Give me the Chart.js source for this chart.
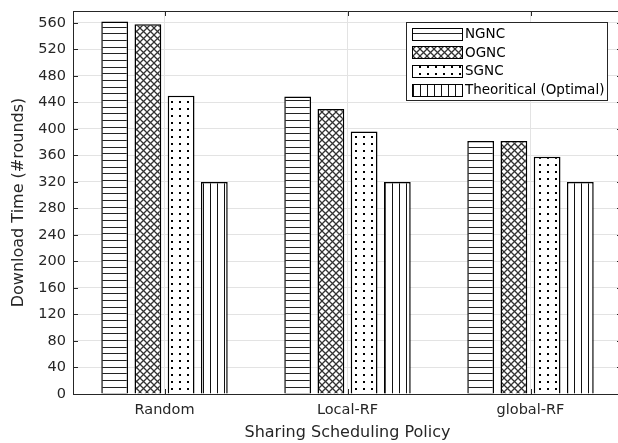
<!DOCTYPE html>
<html>
<head>
<meta charset="utf-8">
<script src="https://cdn.jsdelivr.net/npm/chart.js@4/dist/chart.umd.min.js"></script>
<style>
  html, body { margin: 0; padding: 0; background: #fff; overflow: hidden; }
  #wrap { position: relative; width: 640px; height: 443px; }
</style>
</head>
<body>
<div id="wrap"><canvas id="chart" width="640" height="443"></canvas></div>
<script>
// Download time per sharing scheduling policy
const categories = ['Random', 'Local-RF', 'global-RF'];
const seriesNames = ['NGNC', 'OGNC', 'SGNC', 'Theoritical (Optimal)'];
const ngnc    = [562, 449, 382];
const ognc    = [558, 430, 382];
const sgnc    = [450, 396, 358];
const optimal = [320, 320, 320];
const yTicks  = [0, 40, 80, 120, 160, 200, 240, 280, 320, 360, 400, 440, 480, 520, 560];

const AXIS = '#262626';
const FONT = "'DejaVu Sans', 'Liberation Sans', Arial, sans-serif";

// Monochrome hatch fills
function hatch(kind) {
  const c = document.createElement('canvas');
  const g = c.getContext('2d');
  if (kind === 'horizontal') {
    c.width = 4; c.height = 20;
    g.fillStyle = '#fff'; g.fillRect(0, 0, 4, 20);
    g.fillStyle = '#222';
    [0, 7, 13].forEach(y => g.fillRect(0, y, 4, 1));
  } else if (kind === 'cross') {
    c.width = 7; c.height = 7;
    g.fillStyle = '#fff'; g.fillRect(0, 0, 7, 7);
    g.strokeStyle = '#333'; g.lineWidth = 1.3;
    g.beginPath();
    g.moveTo(-1, -1); g.lineTo(8, 8);
    g.moveTo(8, -1); g.lineTo(-1, 8);
    g.stroke();
  } else if (kind === 'dots') {
    c.width = 8; c.height = 7;
    g.fillStyle = '#fff'; g.fillRect(0, 0, 8, 7);
    g.fillStyle = '#000'; g.fillRect(3, 3, 2, 2);
  } else {
    c.width = 7; c.height = 4;
    g.fillStyle = '#fff'; g.fillRect(0, 0, 7, 4);
    g.fillStyle = '#111'; g.fillRect(0, 0, 1, 4);
  }
  return g.createPattern(c, 'repeat');
}

const fills = [hatch('horizontal'), hatch('cross'), hatch('dots'), hatch('vertical')];
const values = [ngnc, ognc, sgnc, optimal];

// Box, inward ticks and boxed legend
const frame = {
  id: 'frame',
  afterDatasetsDraw(chart) {
    const { ctx, chartArea: a, scales } = chart;
    ctx.save();
    ctx.strokeStyle = AXIS;
    ctx.lineWidth = 1;
    ctx.beginPath();
    ctx.moveTo(a.left, a.top + 0.5); ctx.lineTo(a.right, a.top + 0.5);
    yTicks.forEach(v => {
      const y = Math.round(scales.y.getPixelForValue(v)) + 0.5;
      ctx.moveTo(a.left, y); ctx.lineTo(a.left + 5, y);
      ctx.moveTo(a.right, y); ctx.lineTo(a.right - 5, y);
    });
    categories.forEach((_, i) => {
      const x = Math.round(scales.x.getPixelForValue(i)) + 0.5;
      ctx.moveTo(x, a.bottom); ctx.lineTo(x, a.bottom - 5);
      ctx.moveTo(x, a.top); ctx.lineTo(x, a.top + 5);
    });
    ctx.stroke();
    ctx.restore();
  },
  afterDraw(chart) {
    const { ctx, chartArea: a } = chart;
    const boxW = 201, boxH = 78;
    const bx = a.right - 15 - boxW + 0.5, by = a.top + 11 + 0.5;
    ctx.save();
    ctx.fillStyle = '#fff';
    ctx.fillRect(bx, by, boxW, boxH);
    ctx.strokeStyle = AXIS; ctx.lineWidth = 1;
    ctx.strokeRect(bx, by, boxW, boxH);
    ctx.font = '13.5px ' + FONT;
    ctx.textBaseline = 'middle';
    ctx.textAlign = 'left';
    seriesNames.forEach((name, i) => {
      const cy = by + 11 + i * 18.7;
      const sx = Math.round(bx + 5), sy = Math.round(cy - 6);
      ctx.fillStyle = fills[i];
      ctx.fillRect(sx, sy, 50, 12);
      ctx.strokeStyle = '#000';
      ctx.strokeRect(sx + 0.5, sy + 0.5, 50, 12);
      ctx.fillStyle = '#000';
      ctx.fillText(name, sx + 53, cy + 1);
    });
    ctx.restore();
  }
};

new Chart(document.getElementById('chart'), {
  type: 'bar',
  data: {
    labels: categories,
    datasets: seriesNames.map((name, i) => ({
      label: name,
      data: values[i],
      backgroundColor: fills[i],
      borderColor: '#000',
      borderWidth: 1.5,
      categoryPercentage: 0.726,
      barPercentage: 0.806
    }))
  },
  options: {
    responsive: false,
    animation: false,
    devicePixelRatio: 1,
    layout: { padding: { left: 0, top: 11, right: 18, bottom: 0 } },
    plugins: { legend: { display: false }, tooltip: { enabled: false } },
    scales: {
      x: {
        grid: { offset: false, color: '#e3e3e3', drawTicks: false },
        border: { color: AXIS, width: 1 },
        ticks: { color: AXIS, font: { family: FONT, size: 14.5 }, padding: 8 },
        title: { display: true, text: 'Sharing Scheduling Policy', color: AXIS,
                 font: { family: FONT, size: 16 }, padding: { top: 0, bottom: 1 } },
        afterFit(s) { s.height = 49; s.paddingLeft = 0; s.paddingRight = 0; }
      },
      y: {
        min: 0, max: 578,
        afterBuildTicks(s) { s.ticks = yTicks.map(v => ({ value: v })); },
        grid: { color: '#e3e3e3', drawTicks: false },
        border: { color: AXIS, width: 1 },
        ticks: { color: AXIS, font: { family: FONT, size: 14.5 }, padding: 7 },
        title: { display: true, text: 'Download Time (#rounds)', color: AXIS,
                 font: { family: FONT, size: 16 }, padding: { top: 9, bottom: 0 } },
        afterFit(s) { s.width = 73; s.paddingTop = 0; s.paddingBottom = 0; }
      }
    }
  },
  plugins: [frame]
});
</script>
</body>
</html>
